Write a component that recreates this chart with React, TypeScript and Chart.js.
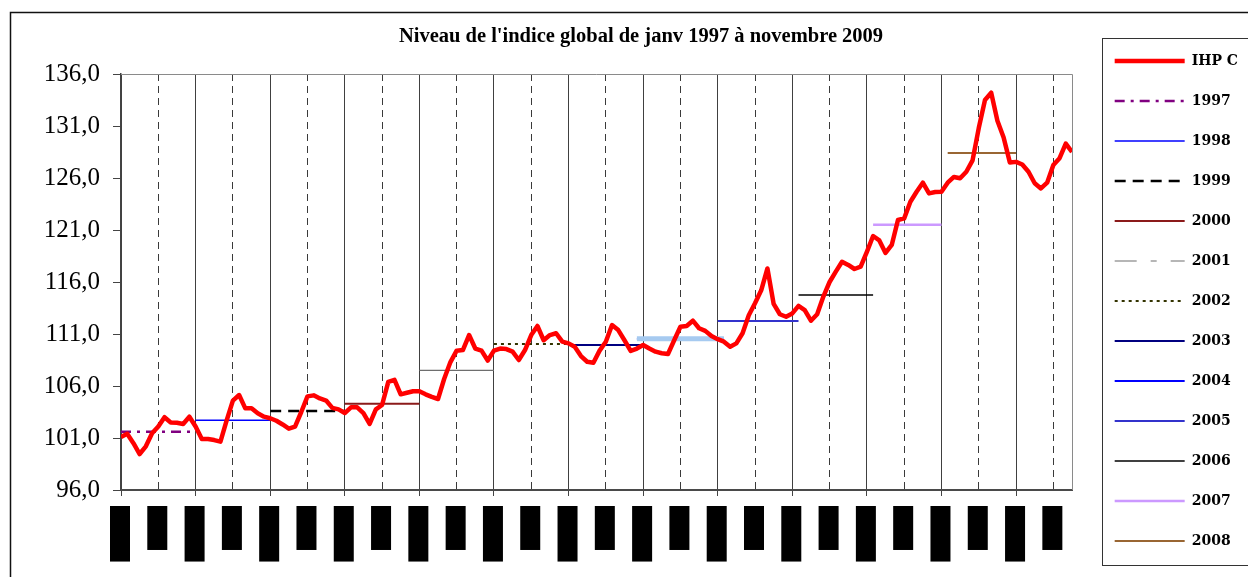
import { useEffect, useRef } from 'react';
import { Chart, registerables } from 'chart.js';

Chart.register(...registerables);

// Monthly index, janv 1997 (index 0) .. oct 2009 (index 153)
const IHPC = [
  101.1, 101.4, 100.5, 99.46, 100.2, 101.45, 102.1, 103.0, 102.5, 102.47, 102.35, 103.05,
  102.1, 100.9, 100.9, 100.8, 100.65, 102.7, 104.6, 105.13, 103.85, 103.85, 103.37, 103.05,
  102.9, 102.66, 102.3, 101.9, 102.1, 103.5, 105.0, 105.1, 104.8, 104.6, 103.9, 103.75,
  103.4, 103.95, 103.95, 103.4, 102.35, 103.75, 104.17, 106.4, 106.6, 105.2, 105.35, 105.5,
  105.5, 105.2, 104.95, 104.75, 106.7, 108.3, 109.4, 109.46, 110.9, 109.6, 109.4, 108.45,
  109.4, 109.6, 109.55, 109.3, 108.5, 109.46, 110.9, 111.77, 110.4, 110.9, 111.07, 110.26,
  110.1, 109.78, 108.88, 108.33, 108.24, 109.4, 110.26, 111.86, 111.38, 110.4, 109.37, 109.6,
  109.94, 109.6, 109.3, 109.15, 109.08, 110.4, 111.7, 111.77, 112.28, 111.55, 111.3, 110.8,
  110.5, 110.26, 109.78, 110.1, 111.07, 112.8, 113.95, 115.2, 117.3, 113.9, 112.9, 112.66,
  112.98, 113.7, 113.3, 112.28, 112.9, 114.6, 116.0, 117.0, 117.95, 117.64, 117.25, 117.47,
  118.9, 120.42, 120.0, 118.8, 119.56, 121.96, 122.12, 123.72, 124.68, 125.55, 124.52, 124.65,
  124.68, 125.55, 126.1, 125.97, 126.6, 127.7, 130.8, 133.5, 134.2, 131.5, 129.9, 127.5,
  127.55, 127.3, 126.6, 125.5, 125.0, 125.55, 127.25, 127.9, 129.3, 128.5,
];

// Annual averages, drawn as horizontal segments
const yearLabels = ['1997', '1998', '1999', '2000', '2001', '2002', '2003', '2004', '2005', '2006', '2007', '2008'];
const yearAvg = [101.6, 102.7, 103.6, 104.3, 107.5, 110.05, 109.95, 110.55, 112.25, 114.75, 121.5, 128.4];
const yearStart = [0, 12, 24, 36, 48, 60, 72, 83, 96, 109, 121, 133];
const yearEnd = [12, 24, 36, 48, 60, 72, 84, 97, 109, 121, 132, 144];

// Axis ticks
const yTickValues = [96, 101, 106, 111, 116, 121, 126, 131, 136];
const xTickValues = [0, 6, 12, 18, 24, 30, 36, 42, 48, 54, 60, 66, 72, 78, 84, 90, 96, 102, 108, 114, 120, 126, 132, 138, 144, 150];
const xTickLabels = [
  'janv-97', 'juil-97', 'janv-98', 'juil-98', 'janv-99', 'juil-99', 'janv-00', 'juil-00',
  'janv-01', 'juil-01', 'janv-02', 'juil-02', 'janv-03', 'juil-03', 'janv-04', 'juil-04',
  'janv-05', 'juil-05', 'janv-06', 'juil-06', 'janv-07', 'juil-07', 'janv-08', 'juil-08',
  'janv-09', 'juil-09',
];
const midYearTicks = xTickValues.filter((_, i) => i % 2 === 1);

const TITLE = "Niveau de l'indice global de janv 1997 à novembre 2009";

// Styles (kept apart from the data)
const yearStyles = [
  { color: '#800080', width: 2.5, dash: [10, 6, 3, 6] },
  { color: '#0000ff', width: 1.5, dash: [] },
  { color: '#000000', width: 2.5, dash: [11, 7] },
  { color: '#8b1a1a', width: 2, dash: [] },
  { color: '#6e6e6e', width: 1.2, dash: [] },
  { color: '#333300', width: 2, dash: [3, 4] },
  { color: '#000080', width: 2, dash: [] },
  { color: '#0000ff', width: 2, dash: [] },
  { color: '#3333cc', width: 2, dash: [] },
  { color: '#000000', width: 1.5, dash: [] },
  { color: '#cc99ff', width: 2.5, dash: [] },
  { color: '#996633', width: 2, dash: [] },
];
const legendDashOverride: Record<string, number[]> = { '2001': [22, 14, 6, 14] };

const CHART_AREA_RIGHT = 1072;

const framePlugin = {
  id: 'frames',
  beforeDatasetsDraw(chart: any) {
    const { ctx, chartArea: a } = chart;
    ctx.save();
    ctx.strokeStyle = '#8a8a8a';
    ctx.lineWidth = 1;
    ctx.beginPath();
    ctx.moveTo(a.left, Math.round(a.top) + 0.5);
    ctx.lineTo(Math.round(a.right) + 0.5, Math.round(a.top) + 0.5);
    ctx.lineTo(Math.round(a.right) + 0.5, a.bottom);
    ctx.stroke();
    ctx.restore();
  },
  afterDraw(chart: any) {
    const ctx = chart.ctx;
    ctx.save();
    ctx.strokeStyle = '#111';
    ctx.lineWidth = 1.5;
    ctx.strokeRect(10.5, 12.5, 1400, 700);
    const hb = chart.legend && chart.legend.legendHitBoxes;
    if (hb && hb.length) {
      const first = hb[0];
      const last = hb[hb.length - 1];
      const left = Math.round(first.left - 13) + 0.5;
      const top = Math.round(first.top - 16) + 0.5;
      const bottom = Math.round(last.top + last.height + 17) + 0.5;
      ctx.strokeStyle = '#333';
      ctx.lineWidth = 1;
      ctx.strokeRect(left, top, 400, bottom - top);
    }
    ctx.restore();
  },
};

export default function App() {
  const ref = useRef<HTMLCanvasElement>(null);

  useEffect(() => {
    if (!ref.current) return;

    const yearDatasets = yearLabels.map((label, i) => ({
      label,
      data: [
        { x: yearStart[i], y: yearAvg[i] },
        { x: yearEnd[i], y: yearAvg[i] },
      ],
      borderColor: yearStyles[i].color,
      backgroundColor: yearStyles[i].color,
      borderWidth: yearStyles[i].width,
      borderDash: yearStyles[i].dash,
      borderCapStyle: 'butt' as const,
      pointRadius: 0,
      pointHoverRadius: 0,
      fill: false,
      tension: 0,
    }));

    const i2004 = yearLabels.indexOf('2004');
    const overlay2004 = {
      label: '',
      data: [
        { x: yearStart[i2004], y: yearAvg[i2004] },
        { x: yearEnd[i2004], y: yearAvg[i2004] },
      ],
      borderColor: '#a6caf0',
      backgroundColor: '#a6caf0',
      borderWidth: 5,
      pointRadius: 0,
      pointHoverRadius: 0,
      fill: false,
      tension: 0,
    };

    const chart = new Chart(ref.current, {
      type: 'line',
      data: {
        datasets: [
          {
            label: 'IHP C',
            data: IHPC.map((v, i) => ({ x: i, y: v })),
            borderColor: '#ff0000',
            backgroundColor: '#ff0000',
            borderWidth: 4.5,
            borderJoinStyle: 'round',
            pointRadius: 0,
            pointHoverRadius: 0,
            fill: false,
            tension: 0,
          },
          overlay2004,
          ...yearDatasets,
        ] as any,
      },
      plugins: [framePlugin],
      options: {
        responsive: false,
        devicePixelRatio: 1,
        animation: false,
        events: [],
        layout: { padding: { left: 34, right: 0, top: 28, bottom: 0 } },
        plugins: {
          tooltip: { enabled: false },
          title: {
            display: true,
            text: TITLE,
            color: '#000',
            font: { family: 'Liberation Serif', size: 20.5, weight: 'bold', lineHeight: 1 },
            padding: { top: -2, bottom: 27.5 },
          },
          legend: {
            display: true,
            position: 'right',
            align: 'start',
            labels: {
              usePointStyle: true,
              pointStyle: 'line',
              pointStyleWidth: 70,
              boxHeight: 14,
              padding: 26,
              color: '#000',
              font: { family: 'DejaVu Serif', size: 14, weight: 'bold' },
              generateLabels: (c: any) => {
                const items = (Chart.defaults.plugins.legend.labels as any).generateLabels(c);
                return items
                  .filter((it: any) => it.text !== '')
                  .map((it: any) => {
                    const ds = c.data.datasets[it.datasetIndex];
                    it.lineDash = legendDashOverride[it.text] || ds.borderDash || [];
                    it.lineWidth = ds.borderWidth;
                    it.strokeStyle = ds.borderColor;
                    it.lineCap = 'butt';
                    return it;
                  });
              },
            },
          },
        },
        scales: {
          x: {
            type: 'linear',
            position: 'bottom',
            min: 0,
            max: IHPC.length - 1,
            afterBuildTicks: (s: any) => {
              s.ticks = xTickValues.map((v) => ({ value: v }));
            },
            afterFit: (s: any) => {
              s.height = 87;
            },
            ticks: {
              autoSkip: false,
              minRotation: 90,
              maxRotation: 90,
              padding: 12,
              labelOffset: -9,
              color: '#000',
              showLabelBackdrop: true,
              backdropColor: '#000',
              backdropPadding: 2,
              font: (c: any) => ({
                family: 'Liberation Serif',
                weight: 'bold',
                size: c.index % 2 === 0 ? 16 : 14.4,
                lineHeight: '16px',
              }),
              callback: (_v: any, i: number) => xTickLabels[i],
            },
            grid: {
              display: true,
              drawOnChartArea: true,
              drawTicks: true,
              tickLength: 6,
              lineWidth: 1,
              color: (c: any) => (c.index % 2 === 0 ? 'rgba(30,30,30,0.85)' : 'rgba(0,0,0,0)'),
              tickColor: (c: any) => (c.index % 2 === 0 ? '#444' : 'rgba(0,0,0,0)'),
            },
            border: { display: true, color: '#4a4a4a', width: 2 },
          },
          x2: {
            type: 'linear',
            position: 'bottom',
            min: 0,
            max: IHPC.length - 1,
            afterBuildTicks: (s: any) => {
              s.ticks = midYearTicks.map((v) => ({ value: v }));
            },
            afterFit: (s: any) => {
              s.height = 0;
            },
            ticks: { display: false },
            grid: { display: true, drawOnChartArea: true, drawTicks: false, color: '#3a3a3a', lineWidth: 1 },
            border: { display: false, dash: [7, 5] },
          },
          y: {
            type: 'linear',
            position: 'left',
            min: 96,
            max: 136,
            afterBuildTicks: (s: any) => {
              s.ticks = yTickValues.map((v) => ({ value: v }));
            },
            afterFit: (s: any) => {
              s.width = 87;
            },
            ticks: {
              color: '#000',
              padding: 13,
              font: { family: 'Liberation Serif', size: 25 },
              callback: (v: any) => Number(v).toFixed(1).replace('.', ','),
            },
            grid: { drawOnChartArea: false, drawTicks: true, tickLength: 8, color: '#444' },
            border: { display: true, color: '#444', width: 1.5 },
          },
          y2: {
            type: 'linear',
            position: 'right',
            min: 0,
            max: 1,
            ticks: { display: false },
            grid: { display: false },
            border: { display: false },
            afterFit: (s: any) => {
              const lw = s.chart.legend ? s.chart.legend.width : 0;
              s.width = Math.max(0, s.chart.width - lw - CHART_AREA_RIGHT);
            },
          },
        },
      } as any,
    });

    return () => chart.destroy();
  }, []);

  return (
    <div style={{ position: 'fixed', left: 0, top: 0, width: 1248, height: 577, background: '#fff' }}>
      <canvas ref={ref} width={1248} height={577} style={{ display: 'block', width: 1248, height: 577 }} />
    </div>
  );
}
